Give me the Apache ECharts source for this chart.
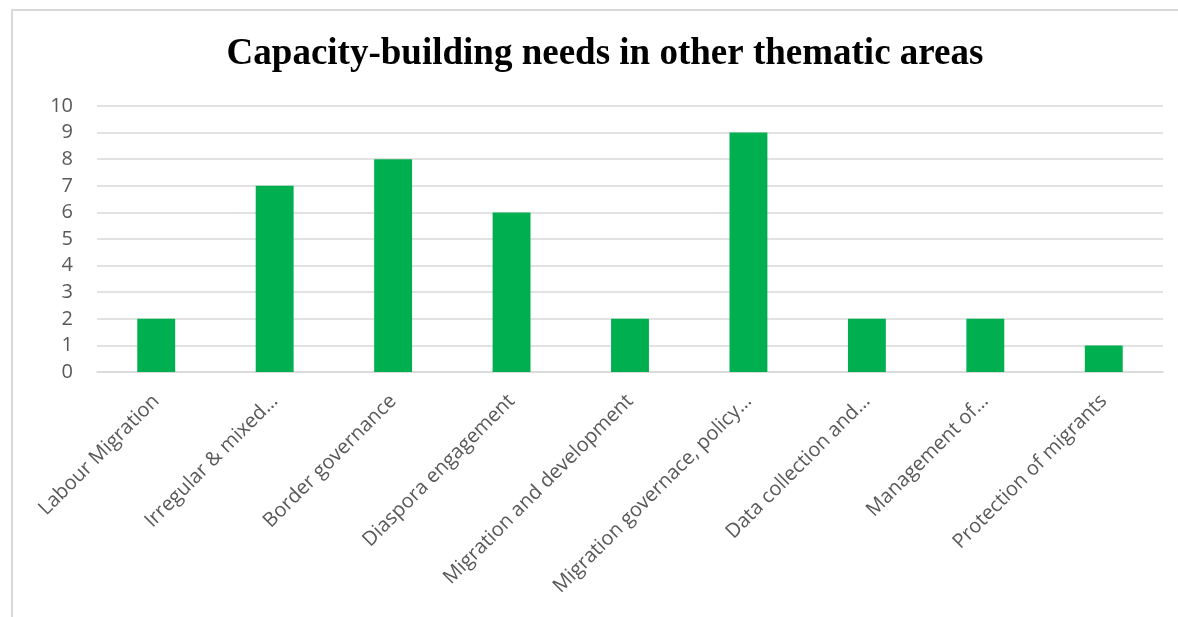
<!DOCTYPE html>
<html>
<head>
<meta charset="utf-8">
<script src="https://cdn.jsdelivr.net/npm/echarts@6/dist/echarts.min.js"></script>
<style>
  html, body { margin: 0; padding: 0; background: #ffffff; }
  #chart { width: 1178px; height: 617px; }
</style>
</head>
<body>
<div id="chart"></div>
<script>
// Thematic areas and the number of capacity-building needs reported for each
const categories = [
  'Labour Migration',
  'Irregular & mixed\u2026',
  'Border governance',
  'Diaspora engagement',
  'Migration and development',
  'Migration governace, policy\u2026',
  'Data collection and\u2026',
  'Management of\u2026',
  'Protection of migrants'
];
const needs = [2, 7, 8, 6, 2, 9, 2, 2, 1];
const yTicks = { min: 0, max: 10, interval: 1 };

const chart = echarts.init(document.getElementById('chart'), null, { renderer: 'canvas' });

chart.setOption({
  backgroundColor: '#ffffff',
  animation: false,
  title: {
    text: 'Capacity-building needs in other thematic areas',
    left: 600,
    textAlign: 'center',
    top: 31,
    textStyle: {
      fontFamily: '"Liberation Serif", "Times New Roman", serif',
      fontWeight: 'bold',
      fontSize: 37,
      color: '#000000'
    }
  },
  graphic: [{
    type: 'rect',
    shape: { x: 12, y: 10, width: 1400, height: 800 },
    style: { fill: 'none', stroke: '#d9d9d9', lineWidth: 2 },
    silent: true,
    z: -1
  }],
  grid: { left: 97, right: 15, top: 106, bottom: 245, containLabel: false },
  xAxis: {
    type: 'category',
    data: categories,
    axisLine: { show: true, lineStyle: { color: '#d9d9d9', width: 1.5 } },
    axisTick: { show: false },
    axisLabel: {
      interval: 0,
      rotate: 45,
      margin: 26,
      color: '#595959',
      fontFamily: '"Open Sans", "Noto Sans", sans-serif',
      fontSize: 20
    }
  },
  yAxis: {
    type: 'value',
    min: yTicks.min,
    max: yTicks.max,
    interval: yTicks.interval,
    axisLine: { show: false },
    axisTick: { show: false },
    splitLine: { show: true, lineStyle: { color: '#d9d9d9', width: 1.5 } },
    axisLabel: {
      margin: 24,
      color: '#595959',
      fontFamily: '"Open Sans", "Noto Sans", sans-serif',
      fontSize: 20
    }
  },
  series: [{
    type: 'bar',
    data: needs,
    barWidth: '32%',
    itemStyle: { color: '#00b050' }
  }]
});
</script>
</body>
</html>
